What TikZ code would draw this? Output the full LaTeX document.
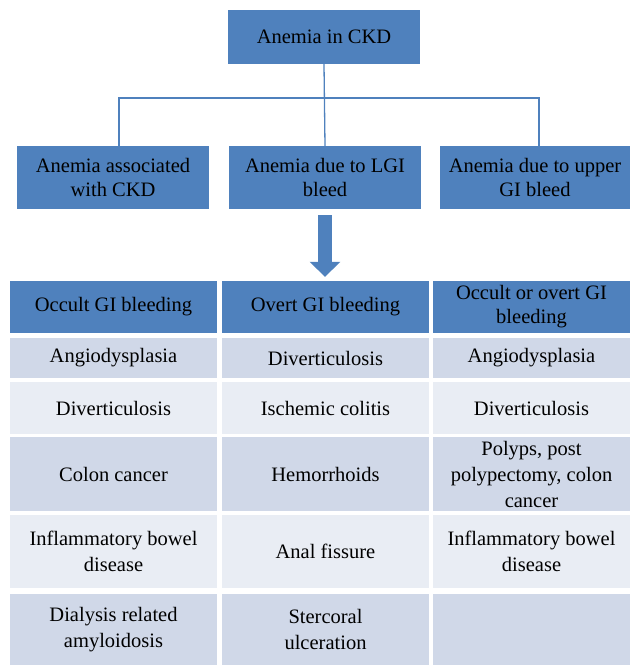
\documentclass[tikz,border=0pt]{standalone}
\usepackage{fontspec}
\setmainfont{Liberation Serif}
\usetikzlibrary{arrows.meta}
\definecolor{hdrblue}{HTML}{4F81BD}
\definecolor{rowdark}{HTML}{D0D8E8}
\definecolor{rowlight}{HTML}{E9EDF4}
\tikzset{
  box/.style={fill=hdrblue, inner sep=0pt, align=center,
    font=\fontsize{20.5}{24}\selectfont},
  cell/.style={inner sep=0pt, align=center,
    font=\fontsize{20.5}{26}\selectfont},
  link/.style={draw=hdrblue, line width=1.3pt},
  bigarrow/.style={draw=hdrblue, line width=14pt,
    -{Triangle[width=30pt,length=15pt]}, shorten <=6pt, shorten >=4pt}
}
\begin{document}
\begin{tikzpicture}[x=1pt, y=-1pt]
    \useasboundingbox (0, 0) rectangle (630, 665);
    % tree part
    \node[box, minimum width=192pt, minimum height=54pt] (top) at (324, 37) {Anemia in CKD};
    \node[box, minimum width=192pt, minimum height=63pt] (mid1) at (113, 177.5) {Anemia associated\\with CKD};
    \node[box, minimum width=192pt, minimum height=63pt] (mid2) at (325, 177.5) {Anemia due to LGI\\bleed};
    \node[box, minimum width=190pt, minimum height=63pt] (mid3) at (535, 177.5) {Anemia due to upper\\GI bleed};
    \coordinate (bus) at (324, 98);
    \draw[link] (top.south) -- (mid2.north);
    \draw[link] ([xshift=6pt]mid1.north) |- (bus) -| ([xshift=4pt]mid3.north);
    % table header
    \node[box, minimum width=207pt, minimum height=52pt] (hdr1) at (113.5, 307) {Occult GI bleeding};
    \node[box, minimum width=207pt, minimum height=52pt] (hdr2) at (325.5, 307) {Overt GI bleeding};
    \node[box, minimum width=197pt, minimum height=52pt] (hdr3) at (531.5, 307) {Occult or overt GI\\bleeding};
    \draw[bigarrow] (mid2.south) -- (mid2.south |- hdr2.north);
    % row 1
    \node[cell, fill=rowdark, minimum width=207pt, minimum height=40pt] (a1) at (113.5, 358) {Angiodysplasia};
    \node[cell, fill=rowdark, minimum width=207pt, minimum height=40pt] (b1) at (325.5, 358) {Diverticulosis};
    \node[cell, fill=rowdark, minimum width=197pt, minimum height=40pt] (c1) at (531.5, 358) {Angiodysplasia};
    % row 2
    \node[cell, fill=rowlight, minimum width=207pt, minimum height=52pt] (a2) at (113.5, 408) {Diverticulosis};
    \node[cell, fill=rowlight, minimum width=207pt, minimum height=52pt] (b2) at (325.5, 408) {Ischemic colitis};
    \node[cell, fill=rowlight, minimum width=197pt, minimum height=52pt] (c2) at (531.5, 408) {Diverticulosis};
    % row 3
    \node[cell, fill=rowdark, minimum width=207pt, minimum height=74pt] (a3) at (113.5, 474) {Colon cancer};
    \node[cell, fill=rowdark, minimum width=207pt, minimum height=74pt] (b3) at (325.5, 474) {Hemorrhoids};
    \node[cell, fill=rowdark, minimum width=197pt, minimum height=74pt] (c3) at (531.5, 474) {Polyps, post\\polypectomy, colon\\cancer};
    % row 4
    \node[cell, fill=rowlight, minimum width=207pt, minimum height=73pt] (a4) at (113.5, 551.5) {Inflammatory bowel\\disease};
    \node[cell, fill=rowlight, minimum width=207pt, minimum height=73pt] (b4) at (325.5, 551.5) {Anal fissure};
    \node[cell, fill=rowlight, minimum width=197pt, minimum height=73pt] (c4) at (531.5, 551.5) {Inflammatory bowel\\disease};
    % row 5
    \node[cell, fill=rowdark, minimum width=207pt, minimum height=71pt] (a5) at (113.5, 629.5) {Dialysis related\\amyloidosis};
    \node[cell, fill=rowdark, minimum width=207pt, minimum height=71pt] (b5) at (325.5, 629.5) {Stercoral\\ulceration};
    \node[cell, fill=rowdark, minimum width=197pt, minimum height=71pt] (c5) at (531.5, 629.5) {};
\end{tikzpicture}
\end{document}
